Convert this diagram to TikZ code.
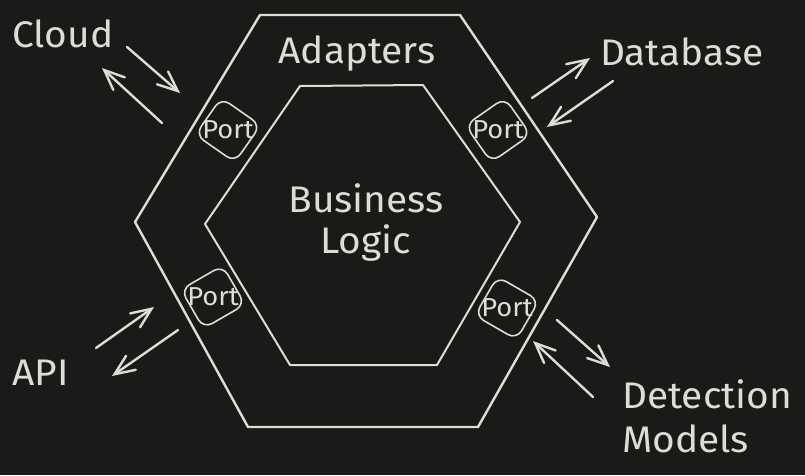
\documentclass[tikz,border=0pt]{standalone}
\usepackage{fontspec}
\setmainfont[FakeStretch=1.05]{Fira Sans}
\usetikzlibrary{arrows.meta}
\definecolor{bg}{RGB}{28,26,24}
\definecolor{ink}{RGB}{222,220,217}
\begin{document}
\begin{tikzpicture}[x=1pt,y=-1pt,
  hexout/.style={draw=ink, line width=2.4pt, line join=round, line cap=round},
  hexin/.style={draw=ink, line width=2pt, line join=round, line cap=round},
  portbox/.style={draw=ink, line width=1.6pt, rounded corners=10pt, minimum width=48pt, minimum height=45pt, inner sep=0pt},
  porttext/.style={text=ink, font=\fontsize{26}{26}\selectfont, inner sep=0pt},
  lbl/.style={text=ink, font=\fontsize{37}{40}\selectfont, inner sep=0pt},
  flow/.style={draw=ink, line width=2.4pt, line cap=round, -{Straight Barb[length=20pt,width=17pt,line cap=round]}}
]
\fill[bg] (0,0) rectangle (805,475);
\useasboundingbox (0,0) rectangle (805,475);

% hexagons
\draw[hexout] (260,15) -- (460,15) -- (597,217) -- (478,427) -- (248,427) -- (135,222) -- cycle;
\draw[hexin] (300,86) -- (423,85) -- (520,222) -- (437,365) -- (290,365) -- (205,224) -- cycle;

% labels
\node[lbl, anchor=base] (adapters) at (357,63) {Adapters};
\node[lbl, anchor=base] (business) at (366,212) {Business};
\node[lbl, anchor=base] (logic) at (366,253) {Logic};
\node[lbl, anchor=base west] (cloud) at (12,47) {Cloud};
\node[lbl, anchor=base west] (database) at (600,65) {Database};
\node[lbl, anchor=base west] (api) at (12,385) {API};
\node[lbl, anchor=base west] (detection) at (622,408) {Detection};
\node[lbl, anchor=base west] (models) at (622,452) {Models};

% ports
\node[portbox, rotate=-35] (p1box) at (228,130) {};
\node[porttext] (p1) at (p1box.center) {Port};
\node[portbox, rotate=35] (p2box) at (498,130) {};
\node[porttext] (p2) at (p2box.center) {Port};
\node[portbox, rotate=30] (p3box) at (213,297) {};
\node[porttext] (p3) at (p3box.center) {Port};
\node[portbox, rotate=-30] (p4box) at (507,308) {};
\node[porttext] (p4) at (p4box.center) {Port};

% arrow end points
\coordinate (c1s) at (127,47);  \coordinate (c1e) at (180,93);
\coordinate (c2s) at (162,123); \coordinate (c2e) at (102,68);
\coordinate (d1s) at (532,98);  \coordinate (d1e) at (590,58);
\coordinate (d2s) at (613,81);  \coordinate (d2e) at (547,127);
\coordinate (a1s) at (96,348);  \coordinate (a1e) at (154,307);
\coordinate (a2s) at (178,330); \coordinate (a2e) at (112,376);
\coordinate (m1s) at (557,320); \coordinate (m1e) at (610,367);
\coordinate (m2s) at (593,397); \coordinate (m2e) at (533,341);

\draw[flow] (c1s) -- (c1e);
\draw[flow] (c2s) -- (c2e);
\draw[flow] (d1s) -- (d1e);
\draw[flow] (d2s) -- (d2e);
\draw[flow] (a1s) -- (a1e);
\draw[flow] (a2s) -- (a2e);
\draw[flow] (m1s) -- (m1e);
\draw[flow] (m2s) -- (m2e);
\end{tikzpicture}
\end{document}
